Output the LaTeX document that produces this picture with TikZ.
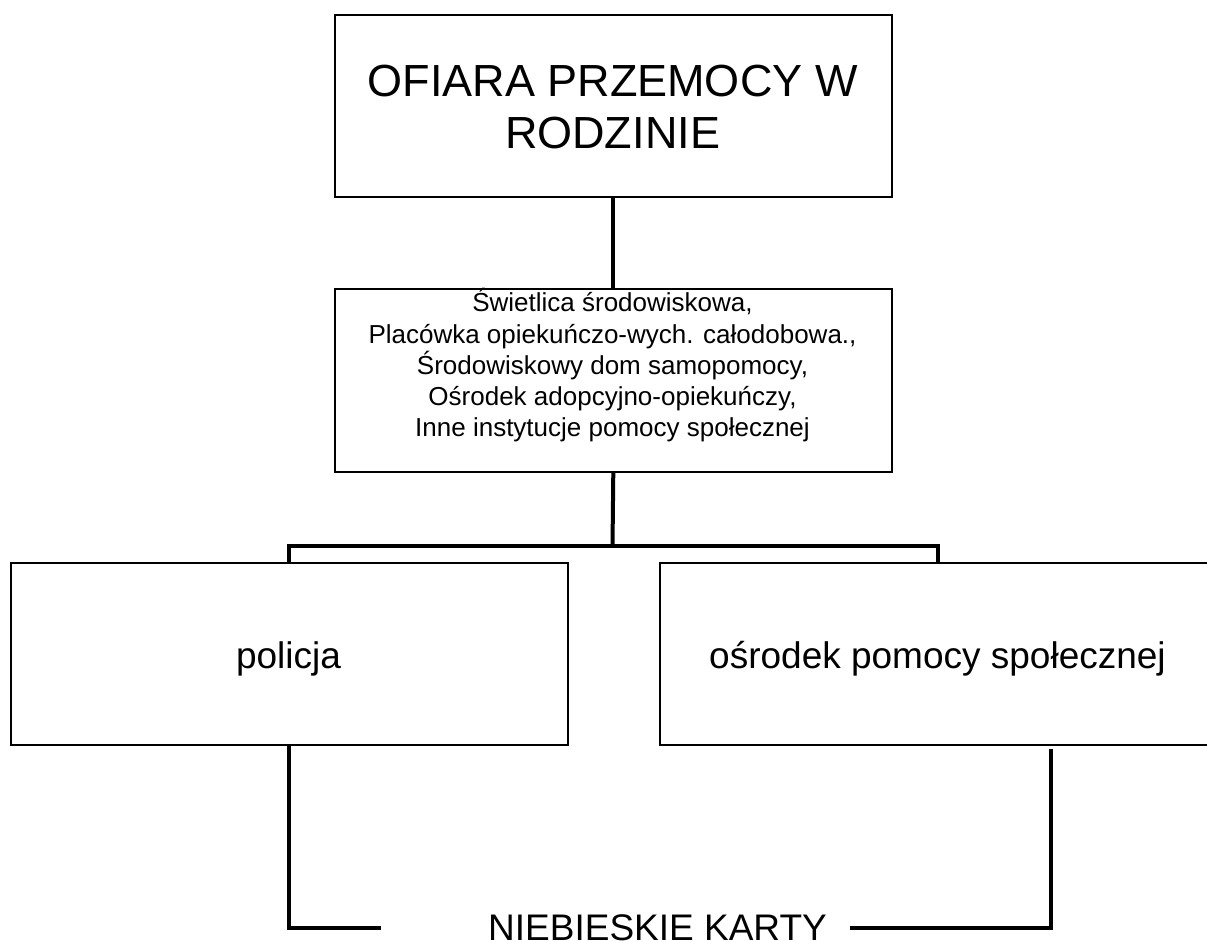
\documentclass[tikz,border=0pt]{standalone}
\usepackage{fontspec}
\setmainfont{Liberation Sans}
\begin{document}
\begin{tikzpicture}[x=1pt,y=-1pt,
  box/.style={draw, line width=1.6pt, minimum width=557pt, minimum height=182pt, inner sep=0pt, anchor=north west},
  conn/.style={line width=4pt},
  txt/.style={inner sep=0pt, anchor=base},
  big/.style={font=\fontsize{45}{52}\selectfont},
  mid/.style={font=\fontsize{26}{31}\selectfont},
  lab/.style={font=\fontsize{37}{43}\selectfont}]
\fill[white] (0,0) rectangle (1207,941);
\useasboundingbox (0,0) rectangle (1207,941);
% boxes
\node[box] (top) at (334,14) {};
\node[box, minimum height=183pt] (mbox) at (334,288) {};
\node[box] (pol) at (10,562) {};
\node[box] (ops) at (659,562) {};
% texts
\node[txt, big] (t1) at (612.5,97) {OFIARA PRZEMOCY W};
\node[txt, big] (t2) at (612.5,149) {RODZINIE};
\node[txt, mid] (m1) at (612.5,312) {Świetlica środowiskowa,};
\node[txt, mid] (m2) at (612.5,343) {Placówka opiekuńczo-wych. całodobowa.,};
\node[txt, mid] (m3) at (612.5,374) {Środowiskowy dom samopomocy,};
\node[txt, mid] (m4) at (612.5,405) {Ośrodek adopcyjno-opiekuńczy,};
\node[txt, mid] (m5) at (612.5,436) {Inne instytucje pomocy społecznej};
\node[txt, lab] (pt) at (288.5,668) {policja};
\node[txt, lab] (ot) at (937.5,668) {ośrodek pomocy społecznej};
\node[txt, lab, anchor=base west] (nk) at (488,940) {NIEBIESKIE KARTY};
% connectors
\coordinate (hj) at (612.5,546);
\coordinate (lk) at (381,928);
\coordinate (rk) at (850,928);
\coordinate (rt) at (1051,749);
\draw[conn] (top.south) -- (mbox.north);
\draw[conn] (mbox.south) -- (hj);
\draw[conn] (pol.north) |- (hj) -| (ops.north);
\draw[conn] (pol.south) |- (lk);
\draw[conn] (rt) |- (rk);
\end{tikzpicture}
\end{document}
